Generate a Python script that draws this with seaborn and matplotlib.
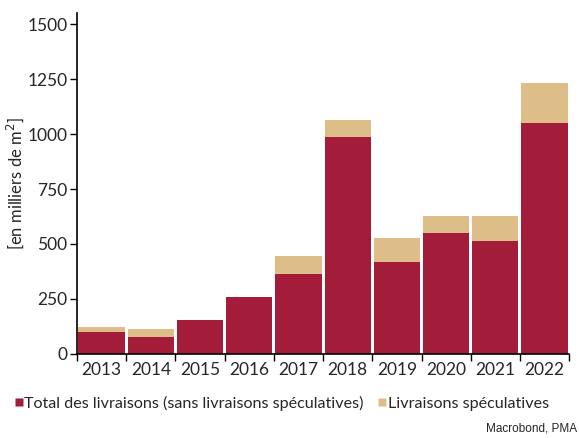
import matplotlib
matplotlib.use("Agg")
import matplotlib.pyplot as plt
import seaborn as sns
import pandas as pd
from matplotlib.lines import Line2D
from matplotlib.ticker import FixedLocator

years = ["2013", "2014", "2015", "2016", "2017", "2018", "2019", "2020", "2021", "2022"]
total_sans_spec = [101, 77, 153, 257, 364, 986, 416, 551, 515, 1050]
speculatives = [20, 35, 0, 0, 83, 77, 109, 76, 112, 183]

red = "#A31D3A"
tan = "#DDBD88"

sns.set_theme(style="ticks")
plt.rcParams["font.family"] = ["Lato", "DejaVu Sans"]

df = pd.DataFrame({"year": years, "base": total_sans_spec, "spec": speculatives})
df["top"] = df["base"] + df["spec"]

fig = plt.figure(figsize=(5.79, 4.38), dpi=100)
ax = fig.add_axes([0.133, 0.192, 0.850, 0.778])

# tan bar = total with speculative, red bar drawn on top = total without
sns.barplot(data=df, x="year", y="top", color=tan, width=0.94, saturation=1,
            edgecolor="none", ax=ax)
sns.barplot(data=df, x="year", y="base", color=red, width=0.94, saturation=1,
            edgecolor="none", ax=ax)

ax.set_xlim(-0.5, len(years) - 0.5)
ax.set_ylim(0, 1550)
ax.set_yticks([0, 250, 500, 750, 1000, 1250, 1500])
ax.set_xlabel("")
ax.set_ylabel("[en milliers de m$^2$]", fontsize=12, labelpad=1)

# ticks between bars on x axis, labels centred under bars
ax.tick_params(axis="x", which="major", length=0, labelsize=12.5, pad=6)
ax.xaxis.set_minor_locator(FixedLocator([i - 0.5 for i in range(len(years) + 1)]))
ax.tick_params(axis="x", which="minor", length=5, width=1, color="black", direction="out")
ax.tick_params(axis="y", length=5, width=1, color="black", labelsize=12.5, pad=2)

sns.despine(ax=ax)
for s in ["left", "bottom"]:
    ax.spines[s].set_linewidth(1.2)
    ax.spines[s].set_color("black")

handles = [
    Line2D([0], [0], marker="s", color="none", markerfacecolor=red, markeredgecolor="none", markersize=6),
    Line2D([0], [0], marker="s", color="none", markerfacecolor=tan, markeredgecolor="none", markersize=6),
]
fig.legend(handles, ["Total des livraisons (sans livraisons spéculatives)", "Livraisons spéculatives"],
           loc="center", bbox_to_anchor=(0.487, 0.079), ncol=2, frameon=False,
           fontsize=11.6, handlelength=0.5, handletextpad=0.1, columnspacing=0.9)

fig.text(0.997, 0.022, "Macrobond, PMA", ha="right", va="center", fontsize=8.5,
         family=["Liberation Sans", "DejaVu Sans"])

fig.savefig("out.png", dpi=100)
